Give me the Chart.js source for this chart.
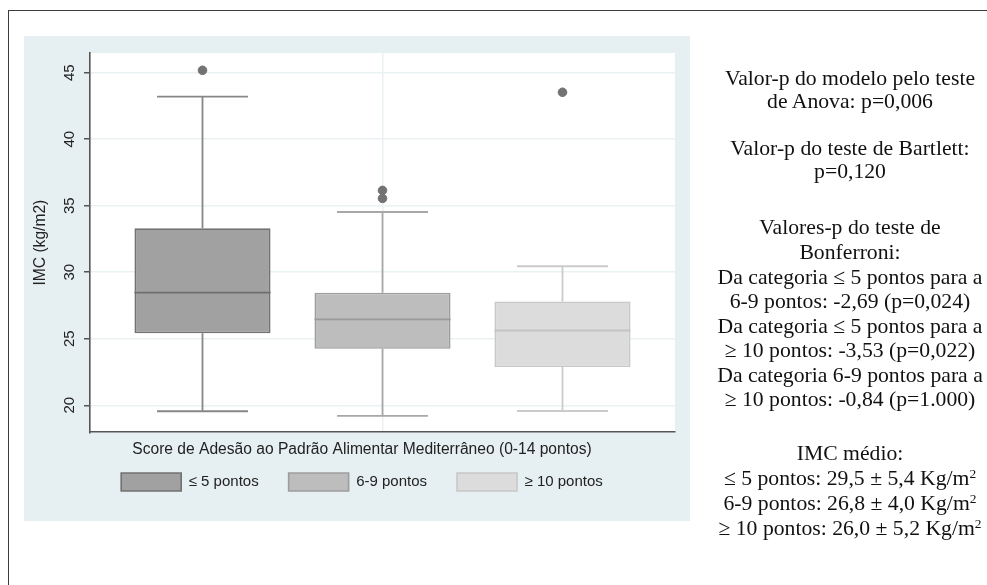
<!DOCTYPE html>
<html lang="pt">
<head>
<meta charset="utf-8">
<title>IMC por score de adesão ao padrão alimentar mediterrâneo</title>
<script src="https://cdn.jsdelivr.net/npm/chart.js@4/dist/chart.umd.min.js"></script>
<style>
  html, body { margin: 0; padding: 0; background: #ffffff; }
  body { width: 987px; height: 585px; position: relative; overflow: hidden; }
  #frame { position: absolute; left: 8px; top: 10px; width: 1000px; height: 600px;
           border-left: 1.5px solid #3c3c3c; border-top: 1.5px solid #3c3c3c; box-sizing: border-box; }
  #panel { position: absolute; left: 24px; top: 36px; width: 666px; height: 485px; background: #e6eff1; }
  #chart { position: absolute; left: 0; top: 0; }
  #notes { position: absolute; left: 700px; top: 0; width: 300px; height: 585px;
           font-family: "Liberation Serif", "Times New Roman", serif; font-size: 21.7px; color: #111; }
  #notes div { position: absolute; left: 0; width: 300px; text-align: center; white-space: nowrap;
               line-height: 24px; transform: translateY(-50%); }
  #notes sup { font-size: 0.62em; vertical-align: 0.55em; line-height: 0; }
</style>
</head>
<body>
<div id="frame"></div>
<div id="panel"></div>
<canvas id="chart" width="987" height="585"></canvas>
<div id="notes">
  <div style="top:78px">Valor-p do modelo pelo teste</div>
  <div style="top:101px">de Anova: p=0,006</div>
  <div style="top:148px">Valor-p do teste de Bartlett:</div>
  <div style="top:171px">p=0,120</div>
  <div style="top:227px">Valores-p do teste de</div>
  <div style="top:252px">Bonferroni:</div>
  <div style="top:277px">Da categoria ≤ 5 pontos para a</div>
  <div style="top:301px">6-9 pontos: -2,69 (p=0,024)</div>
  <div style="top:326px">Da categoria ≤ 5 pontos para a</div>
  <div style="top:350px">≥ 10 pontos: -3,53 (p=0,022)</div>
  <div style="top:375px">Da categoria 6-9 pontos para a</div>
  <div style="top:399px">≥ 10 pontos: -0,84 (p=1.000)</div>
  <div style="top:453px">IMC médio:</div>
  <div style="top:478px">≤ 5 pontos: 29,5 ± 5,4 Kg/m<sup>2</sup></div>
  <div style="top:503px">6-9 pontos: 26,8 ± 4,0 Kg/m<sup>2</sup></div>
  <div style="top:528px">≥ 10 pontos: 26,0 ± 5,2 Kg/m<sup>2</sup></div>
</div>
<script>
// Groups of the Mediterranean diet adherence score
const categories = ['≤ 5 pontos', '6-9 pontos', '≥ 10 pontos'];

// Box-plot summaries of BMI (kg/m2) per group
const whiskerLow  = [19.55, 19.2, 19.57];
const q1          = [25.42, 24.25, 22.87];
const median      = [28.47, 26.45, 25.62];
const q3          = [33.3, 28.45, 27.8];
const whiskerHigh = [43.2, 34.53, 30.45];
const outliers    = [[45.18], [36.15, 35.55], [43.53]];

// Y axis tick labels
const yTicks = [20, 25, 30, 35, 40, 45];

const yTitle = 'IMC (kg/m2)';
const xTitle = 'Score de Adesão ao Padrão Alimentar Mediterrâneo (0-14 pontos)';

// Stata-like grey shades per group
const fills    = ['#a1a1a1', '#bdbdbd', '#dcdcdc'];
const borders  = ['#717171', '#9d9d9d', '#c8c8c8'];
const whiskers = ['#878787', '#a7a7a7', '#cbcbcb'];
const medians  = ['#6f6f6f', '#999999', '#c4c4c4'];
const capWidth = 0.505;   // in x-axis units

Chart.defaults.font.family = "'Liberation Sans', Arial, sans-serif";
Chart.defaults.color = '#222222';

const boxDatasets = categories.map((name, i) => ({
  type: 'bar',
  label: name,
  data: [{ x: i + 1, y: [q1[i], q3[i]] }],
  backgroundColor: fills[i],
  borderColor: borders[i],
  borderWidth: 1.6,
  borderSkipped: false,
  grouped: false,
  categoryPercentage: 1,
  barPercentage: 0.756
}));

const outlierPoints = outliers.flatMap((vals, i) => vals.map(v => ({ x: i + 1, y: v })));

// White plot region; whiskers and caps under the boxes, medians on top of them
const boxPlotParts = {
  id: 'boxPlotParts',
  beforeDraw(chart) {
    const { ctx, chartArea: a } = chart;
    ctx.save();
    ctx.fillStyle = '#ffffff';
    ctx.fillRect(a.left, a.top, a.right - a.left, a.bottom - a.top);
    ctx.restore();
  },
  beforeDatasetsDraw(chart) {
    const { ctx, scales: { x, y } } = chart;
    ctx.save();
    ctx.lineCap = 'butt';
    categories.forEach((c, i) => {
      const cx = x.getPixelForValue(i + 1);
      const l = x.getPixelForValue(i + 1 - capWidth / 2);
      const r = x.getPixelForValue(i + 1 + capWidth / 2);
      const yLo = y.getPixelForValue(whiskerLow[i]);
      const yHi = y.getPixelForValue(whiskerHigh[i]);
      ctx.strokeStyle = whiskers[i];
      ctx.lineWidth = 1.8;
      ctx.beginPath();
      ctx.moveTo(cx, yHi); ctx.lineTo(cx, y.getPixelForValue(q3[i]));
      ctx.moveTo(cx, y.getPixelForValue(q1[i])); ctx.lineTo(cx, yLo);
      ctx.moveTo(l, yHi); ctx.lineTo(r, yHi);
      ctx.moveTo(l, yLo); ctx.lineTo(r, yLo);
      ctx.stroke();
    });
    ctx.restore();
  },
  afterDatasetsDraw(chart) {
    const { ctx, scales: { y } } = chart;
    ctx.save();
    categories.forEach((c, i) => {
      const bar = chart.getDatasetMeta(i).data[0];
      const ym = y.getPixelForValue(median[i]);
      ctx.strokeStyle = medians[i];
      ctx.lineWidth = 1.8;
      ctx.beginPath();
      ctx.moveTo(bar.x - bar.width / 2, ym);
      ctx.lineTo(bar.x + bar.width / 2, ym);
      ctx.stroke();
    });
    ctx.restore();
  }
};

new Chart(document.getElementById('chart'), {
  type: 'bar',
  data: {
    datasets: [
      ...boxDatasets,
      {
        type: 'scatter',
        label: 'outliers',
        data: outlierPoints,
        backgroundColor: '#737373',
        borderColor: '#737373',
        pointRadius: 4.3,
        pointHoverRadius: 4.3,
        showLine: false
      }
    ]
  },
  options: {
    responsive: false,
    animation: false,
    devicePixelRatio: 1,
    layout: { padding: { left: 49, right: 312, top: 53, bottom: 84 } },
    scales: {
      x: {
        type: 'linear',
        offset: false,
        min: 0.375,
        max: 3.625,
        afterBuildTicks: s => { s.ticks = [{ value: 2 }]; },
        afterFit: s => { s.height = 0; },
        ticks: { display: false },
        grid: { color: '#e9f1f2', lineWidth: 1.5, drawTicks: false, offset: false },
        border: { color: '#555555', width: 1.6 }
      },
      y: {
        min: 17.97,
        max: 46.48,
        afterBuildTicks: s => { s.ticks = yTicks.map(v => ({ value: v })); },
        afterFit: s => { s.width = 41; },
        ticks: {
          autoSkip: false,
          minRotation: 90,
          maxRotation: 90,
          crossAlign: 'center',
          padding: 6,
          font: { size: 15 },
          color: '#222222'
        },
        grid: { color: '#e9f1f2', lineWidth: 1.5, drawTicks: true, tickLength: 6,
                tickColor: '#555555', tickWidth: 1.5 },
        border: { color: '#555555', width: 1.6 },
        title: { display: true, text: yTitle, font: { size: 15.6 }, color: '#222222',
                 padding: { top: -18, bottom: 0 } }
      }
    },
    plugins: {
      tooltip: { enabled: false },
      legend: {
        position: 'bottom',
        fullSize: true,
        labels: {
          boxWidth: 60,
          boxHeight: 18,
          padding: 30,
          font: { size: 15 },
          color: '#222222',
          filter: item => item.datasetIndex < categories.length
        },
        title: {
          display: true,
          text: xTitle,
          font: { size: 15.6 },
          color: '#222222',
          padding: { top: 9.5, bottom: -17.5 }
        }
      }
    }
  },
  plugins: [boxPlotParts]
});
</script>
</body>
</html>
